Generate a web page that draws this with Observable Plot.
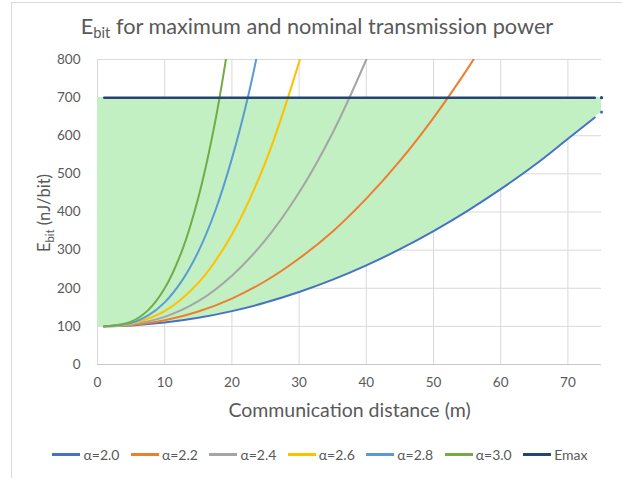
<!DOCTYPE html>
<html>
<head>
<meta charset="utf-8">
<script src="https://cdn.jsdelivr.net/npm/d3@7"></script>
<script src="https://cdn.jsdelivr.net/npm/@observablehq/plot@0.6"></script>
<style>
  html, body { margin: 0; padding: 0; background: #fff; }
  #wrap { position: relative; width: 622px; height: 478px; overflow: hidden; font-family: Lato, "Open Sans", sans-serif; color: #595959; }
  #frame { position: absolute; left: 11px; top: 2px; width: 700px; height: 600px; border-left: 1px solid #d9d9d9; border-top: 1px solid #d9d9d9; }
  #chart { position: absolute; left: 0; top: 0; }
  #title { position: absolute; top: 13px; left: 0; width: 634px; text-align: center; font-size: 21.7px; color: #595959; }
  #title sub, #ylab sub { font-size: 0.68em; vertical-align: -0.28em; }
  #ylab { position: absolute; left: 45px; top: 213px; transform: translate(-50%, -50%) rotate(-90deg); white-space: nowrap; font-size: 16.5px; }
  #legend { position: absolute; top: 446px; left: 0; width: 640px; display: flex; justify-content: center; gap: 11.5px; font-size: 14px; }
  .item { display: flex; align-items: center; gap: 3px; }
  .sw { display: inline-block; width: 28px; height: 2.5px; }
</style>
</head>
<body>
<div id="wrap">
  <div id="frame"></div>
  <div id="chart"></div>
  <div id="title">E<sub>bit</sub> for maximum and nominal transmission power</div>
  <div id="ylab">E<sub>bit</sub> (nJ/bit)</div>
  <div id="legend"></div>
</div>
<script>
// Data (distance in m, Ebit in nJ/bit)
const d20 = [1, 5, 10, 15, 20, 25, 30, 35, 40, 45, 50, 55, 60, 65, 70, 74];
const e20 = [100, 102.5, 110, 122.5, 140, 162.5, 190, 222.5, 260, 302.5, 350, 402.5, 460, 522.5, 592, 648];
const d22 = [1, 5, 10, 15, 20, 25, 30, 35, 40, 45, 50, 55, 57];
const e22 = [100, 103.5, 116, 139, 173, 219, 278, 349, 435, 534, 647, 774, 830];
const d24 = [1, 5, 10, 15, 20, 25, 30, 35, 40, 42];
const e24 = [100, 105, 125, 166, 233, 327, 451, 608, 800, 887];
const d26 = [1, 5, 10, 15, 20, 25, 30, 32];
const e26 = [100, 107, 140, 214, 341, 531, 793, 919];
const d28 = [1, 5, 7.5, 10, 12.5, 15, 17.5, 20, 22.5, 25];
const e28 = [100, 109, 128, 163, 218, 296, 402, 540, 710, 921];
const d30 = [1, 5, 7.5, 10, 12.5, 15, 17.5, 20];
const e30 = [100, 112.5, 142, 200, 295, 437.5, 636, 900];
const emaxValue = 700;
const emaxRange = [1, 74];
const lastD = 75;
const lastE20 = 662;
const lastEmax = 700;

const seriesNames = ["α=2.0", "α=2.2", "α=2.4", "α=2.6", "α=2.8", "α=3.0", "Emax"];
const seriesColors = ["#4472C4", "#ED7D31", "#A5A5A5", "#FFC000", "#5B9BD5", "#70AD47", "#264478"];
const xTicks = [0, 10, 20, 30, 40, 50, 60, 70];
const yTicks = [0, 100, 200, 300, 400, 500, 600, 700, 800];

const curves = [[d20, e20], [d22, e22], [d24, e24], [d26, e26], [d28, e28], [d30, e30]];
const lineData = curves.flatMap(([ds, es], i) => ds.map((d, j) => ({d, e: es[j], s: seriesNames[i]})));
const emaxData = emaxRange.map(d => ({d, e: emaxValue}));
const fillData = [{d: 0, lo: e20[0]}, ...d20.map((d, j) => ({d, lo: e20[j]})), {d: lastD, lo: lastE20}];

const chart = Plot.plot({
  width: 622,
  height: 430,
  marginTop: 59,
  marginBottom: 66,
  marginLeft: 97,
  marginRight: 21,
  style: {fontFamily: "Lato, 'Open Sans', sans-serif", fontSize: "13.5px", color: "#595959", background: "transparent"},
  x: {domain: [0, 75]},
  y: {domain: [0, 800]},
  color: {domain: seriesNames, range: seriesColors},
  marks: [
    Plot.gridX(xTicks, {stroke: "#d9d9d9", strokeOpacity: 1}),
    Plot.gridY(yTicks, {stroke: "#d9d9d9", strokeOpacity: 1}),
    Plot.areaY(fillData, {x: "d", y1: "lo", y2: emaxValue, curve: "catmull-rom", fill: "#c2f0c2"}),
    Plot.ruleY([0], {stroke: "#c8c8c8", strokeWidth: 1.2}),
    Plot.line(lineData, {x: "d", y: "e", z: "s", stroke: "s", strokeWidth: 2, curve: "catmull-rom", clip: true}),
    Plot.line(emaxData, {x: "d", y: "e", stroke: seriesColors[6], strokeWidth: 2.5}),
    Plot.dot([{d: lastD, e: lastE20, s: "α=2.0"}, {d: lastD, e: lastEmax, s: "Emax"}], {x: "d", y: "e", fill: "s", r: 1.6}),
    Plot.axisX(xTicks, {tickSize: 0, tickPadding: 13, label: "Communication distance (m)", labelAnchor: "center", labelOffset: 52, labelArrow: "none", fontSize: 13.5}),
    Plot.axisY(yTicks, {tickSize: 0, tickPadding: 17, label: null, fontSize: 13.5})
  ]
});
document.getElementById("chart").appendChild(chart);
// enlarge the x-axis title
chart.querySelectorAll("text").forEach(t => {
  if (t.textContent.startsWith("Communication")) { t.setAttribute("font-size", "19.5px"); t.style.fontSize = "19.5px"; }
});

const legend = document.getElementById("legend");
seriesNames.forEach((n, i) => {
  const it = document.createElement("div");
  it.className = "item";
  it.innerHTML = `<span class="sw" style="background:${seriesColors[i]}"></span><span>${n}</span>`;
  legend.appendChild(it);
});
</script>
</body>
</html>
